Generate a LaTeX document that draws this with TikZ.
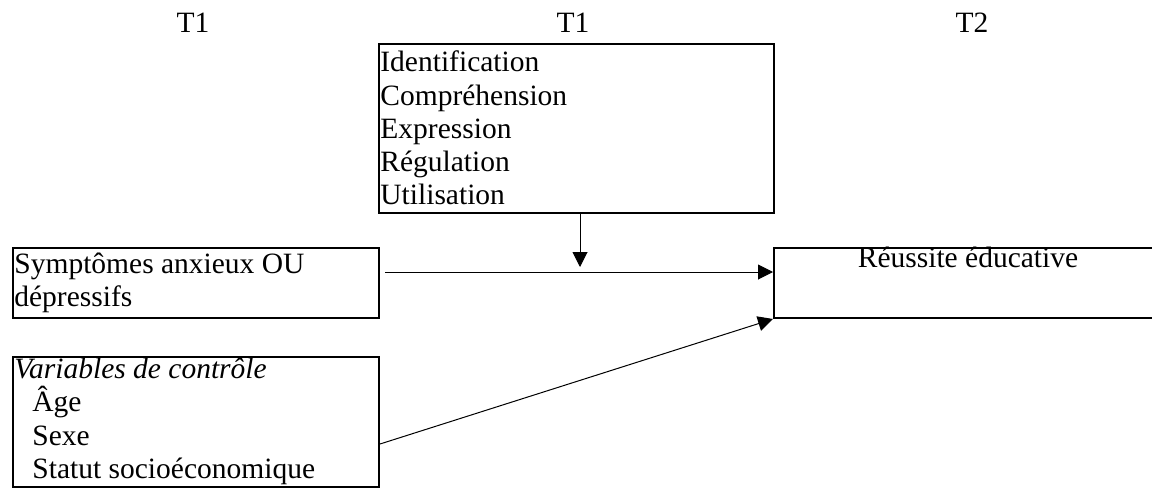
\documentclass[tikz,border=0pt]{standalone}
\usepackage{fontspec}
\setmainfont{Liberation Serif}
\usetikzlibrary{arrows.meta}
\tikzset{
  box/.style={draw,line width=1pt,inner sep=0pt,anchor=north west},
  txt/.style={inner sep=0pt,anchor=base west,font=\fontsize{14.75pt}{16.7pt}\selectfont},
  link/.style={-{Triangle[length=7.5pt,width=7.5pt]},line width=0.5pt}
}
\begin{document}
\begin{tikzpicture}[x=0.5pt,y=-0.5pt]
\useasboundingbox (0,0) rectangle (1152,493);
% time points
\node[txt,anchor=base] (t1a) at (193,32) {T1};
\node[txt,anchor=base] (t1b) at (573,32) {T1};
\node[txt,anchor=base] (t2) at (972,32) {T2};
% boxes
\node[box,minimum width=197.5pt,minimum height=84.5pt] (mod) at (378,43) {};
\node[box,minimum width=183pt,minimum height=35pt] (sym) at (12,247) {};
\node[box,minimum width=183pt,minimum height=65pt] (ctl) at (12,356) {};
\node[box,minimum width=195pt,minimum height=35pt] (out) at (773,247) {};
% moderators
\foreach \t [count=\i] in {Identification,Compréhension,Expression,Régulation,Utilisation}
  \node[txt] (mod\i) at (380,{38.4+33.3*\i}) {\t};
% predictor
\node[txt] (sym1) at (14,273) {Symptômes anxieux OU};
\node[txt] (sym2) at (14,306.5) {dépressifs};
% controls
\node[txt] (ctl0) at (14,378) {\itshape Variables de contrôle};
\node[txt] (ctl1) at (32,411.5) {Âge};
\node[txt] (ctl2) at (32,445) {Sexe};
\node[txt] (ctl3) at (32,478) {Statut socioéconomique};
% outcome
\node[txt,anchor=base] (out1) at (968,267) {Réussite éducative};
% arrows
\coordinate (hit) at (580,272);
\draw[link] (mod.south -| hit) -- ([yshift=2.5pt]hit);
\draw[link] ([xshift=2.5pt]sym.east |- hit) -- (out.west |- hit);
\draw[link] ([yshift=-11pt]ctl.east) -- (out.south west);
\end{tikzpicture}
\end{document}
